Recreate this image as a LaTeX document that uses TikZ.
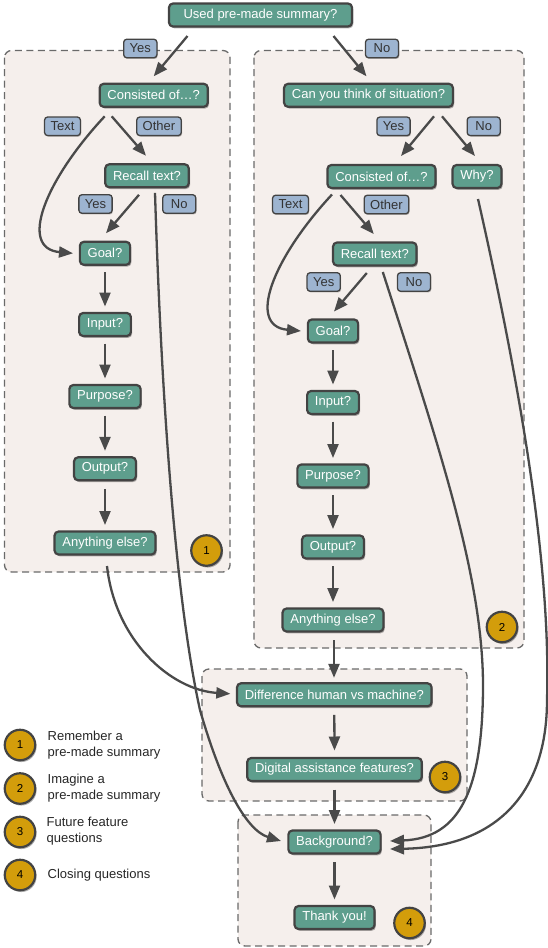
\documentclass[tikz,border=0pt]{standalone}
\usepackage{fontspec}
\setmainfont{Liberation Sans}
\usetikzlibrary{arrows.meta,shadows,calc}
\definecolor{teal1}{HTML}{5E9E8D}
\definecolor{lblue}{HTML}{9DB4D0}
\definecolor{cfill}{HTML}{F5EFEC}
\definecolor{gold1}{HTML}{D39D0B}
\definecolor{dgray}{HTML}{434343}
\definecolor{egray}{HTML}{4A4A4A}
\definecolor{cgray}{HTML}{6A6A6A}
\definecolor{ltext}{HTML}{333333}
\begin{document}
\begin{tikzpicture}[x=1pt,y=-1pt,
  qbox/.style={rectangle, rounded corners=4pt, fill=teal1, draw=dgray, line width=2.2pt, text=white,
    font=\fontsize{13}{15}\selectfont, minimum height=23pt, inner xsep=7.8pt, inner ysep=0pt,
    drop shadow={shadow xshift=1.3pt, shadow yshift=-1.8pt, opacity=0.3, fill=black}},
  lbl/.style={rectangle, rounded corners=3pt, fill=lblue, draw=dgray, line width=1.3pt, text=ltext,
    font=\fontsize{13}{15}\selectfont, minimum height=18.5pt, minimum width=33pt, inner xsep=6pt, inner ysep=0pt,
    drop shadow={shadow xshift=0.8pt, shadow yshift=-1.2pt, opacity=0.25, fill=black}},
  badge/.style={circle, fill=gold1, draw=dgray, line width=2.2pt, minimum size=30.5pt, inner sep=0pt,
    font=\fontsize{11.5}{13}\selectfont, text=black,
    drop shadow={shadow xshift=1.3pt, shadow yshift=-1.8pt, opacity=0.3, fill=black}},
  cont/.style={fill=cfill, draw=cgray, line width=1.3pt, dash pattern=on 7pt off 4.5pt, rounded corners=7pt},
  arr/.style={draw=egray, line width=2.3pt, -{Triangle[length=14pt,width=11pt]}},
  legend/.style={anchor=west, align=left, inner sep=0pt, font=\fontsize{13}{16}\selectfont, text=black!85}
]
\useasboundingbox (0,0) rectangle (548,948);

% containers
\draw[cont] (4.5,50.5) rectangle (230,572);
\draw[cont] (254,50.5) rectangle (524,648);
\draw[cont] (202,669) rectangle (467,801);
\draw[cont] (238,815) rectangle (431,946);

% nodes
\node[qbox, minimum width=183pt] (top) at (260.5,15) {Used pre-made summary?};
\node[qbox] (cons1) at (153.7,95.3) {Consisted of…?};
\node[qbox] (rec1) at (147,175.8) {Recall text?};
\node[qbox] (goal1) at (105,253.3) {Goal?};
\node[qbox] (in1) at (105,324.5) {Input?};
\node[qbox] (pur1) at (105,396.5) {Purpose?};
\node[qbox] (out1) at (105,468.8) {Output?};
\node[qbox] (any1) at (105,543) {Anything else?};

\node[qbox] (think) at (368.5,95.3) {Can you think of situation?};
\node[qbox] (cons2) at (381.5,176.5) {Consisted of…?};
\node[qbox] (why) at (477,176.5) {Why?};
\node[qbox] (rec2) at (374.8,254) {Recall text?};
\node[qbox] (goal2) at (333,331) {Goal?};
\node[qbox] (in2) at (333,402.5) {Input?};
\node[qbox] (pur2) at (333,476) {Purpose?};
\node[qbox] (out2) at (333,547) {Output?};
\node[qbox] (any2) at (333,620) {Anything else?};

\node[qbox] (diff) at (334.3,694.8) {Difference human vs machine?};
\node[qbox] (dig) at (334.5,769.5) {Digital assistance features?};
\node[qbox] (bg) at (334.5,842) {Background?};
\node[qbox] (thank) at (334.5,917.5) {Thank you!};

% edges
\draw[arr] ($(top)+(-73,21)$) -- ($(cons1)+(0,-19)$);
\draw[arr] ($(top)+(73,21)$) -- ($(think)+(-2,-19)$);
\draw[arr] ($(cons1)+(-42,21)$) -- ($(rec1)+(-1,-20)$);
\draw[arr] ($(cons1)+(-49,21)$) .. controls ($(goal1)+(-60,-73)$) and ($(goal1)+(-87,-5)$) .. ($(goal1)+(-32,0)$);
\draw[arr] ($(rec1)+(-8,19)$) -- ($(goal1)+(1,-20)$);
\draw[arr] ($(goal1)+(0,19)$) -- ($(in1)+(0,-18)$);
\draw[arr] ($(in1)+(0,19)$) -- ($(pur1)+(0,-18)$);
\draw[arr] ($(pur1)+(0,19)$) -- ($(out1)+(0,-18)$);
\draw[arr] ($(out1)+(0,20)$) -- ($(any1)+(0,-18)$);
\draw[arr] ($(any1)+(2,23)$) .. controls ($(any1)+(10,97)$) and ($(diff)+(-164,-5)$) .. ($(diff)+(-104,-1)$);
\draw[arr] ($(rec1)+(8,17)$) .. controls (163,450) and (180,620) .. (200,710)
  .. controls (220,780) and (245,830) .. ($(bg)+(-53.5,-1)$);

\draw[arr] ($(think)+(65.5,21)$) -- ($(cons2)+(19.5,-20.5)$);
\draw[arr] ($(think)+(73.5,21)$) -- ($(why)+(-2,-20.5)$);
\draw[arr] ($(cons2)+(-41,18.5)$) -- ($(rec2)+(-1,-20)$);
\draw[arr] ($(cons2)+(-49.5,18)$) .. controls ($(goal2)+(-60,-73)$) and ($(goal2)+(-87,-5)$) .. ($(goal2)+(-32,0)$);
\draw[arr] ($(rec2)+(-8,19)$) -- ($(goal2)+(1,-19.5)$);
\draw[arr] ($(goal2)+(0,19)$) -- ($(in2)+(0,-18)$);
\draw[arr] ($(in2)+(0,19)$) -- ($(pur2)+(0,-18)$);
\draw[arr] ($(pur2)+(0,19)$) -- ($(out2)+(0,-18)$);
\draw[arr] ($(out2)+(0,19)$) -- ($(any2)+(0,-18)$);
\draw[arr] ($(any2)+(1,20)$) -- ($(diff)+(-0.3,-17)$);
\draw[arr] ($(diff)+(0,20)$) -- ($(dig)+(0,-19)$);
\draw[arr] ($(dig)+(0,20)$) -- ($(bg)+(0,-18)$);
\draw[arr] ($(bg)+(0,20)$) -- ($(thank)+(0,-18)$);
\draw[arr] ($(rec2)+(8,18)$) .. controls (440,450) and (484,580) .. (483,690)
  .. controls (482,790) and (460,838) .. ($(bg)+(55.5,-1)$);
\draw[arr] ($(why)+(1,22.5)$) .. controls (535,450) and (550,600) .. (547,700)
  .. controls (547,790) and (500,847) .. ($(bg)+(55.5,7)$);

% labels
\node[lbl] (lyes0) at (140.3,48.5) {Yes};
\node[lbl] (lno0) at (382,48.5) {No};
\node[lbl] (ltext1) at (62.5,126.3) {Text};
\node[lbl] (lother1) at (159,126.3) {Other};
\node[lbl] (lyes1) at (95.5,204) {Yes};
\node[lbl] (lno1) at (179.3,204) {No};
\node[lbl] (lyes2) at (393.5,126.3) {Yes};
\node[lbl] (lno2) at (483.7,126.3) {No};
\node[lbl] (ltext2) at (290.5,204.5) {Text};
\node[lbl] (lother2) at (386.5,204.5) {Other};
\node[lbl] (lyes3) at (323.7,282) {Yes};
\node[lbl] (lno3) at (414,282) {No};

% badges
\node[badge] (b1) at (206.5,550.5) {1};
\node[badge] (b2) at (502,627) {2};
\node[badge] (b3) at (445,777) {3};
\node[badge] (b4) at (409.5,923) {4};

% legend
\node[badge] (lb1) at (20,745) {1};
\node[badge] (lb2) at (20,788.5) {2};
\node[badge] (lb3) at (20,832) {3};
\node[badge] (lb4) at (20,875) {4};
\node[legend] (lt1) at (47.5,745) {Remember a\\pre-made summary};
\node[legend] (lt2) at (47.5,788.5) {Imagine a\\pre-made summary};
\node[legend] (lt3) at (46.5,831.5) {Future feature\\questions};
\node[legend] (lt4) at (47.5,875) {Closing questions};
\end{tikzpicture}
\end{document}
